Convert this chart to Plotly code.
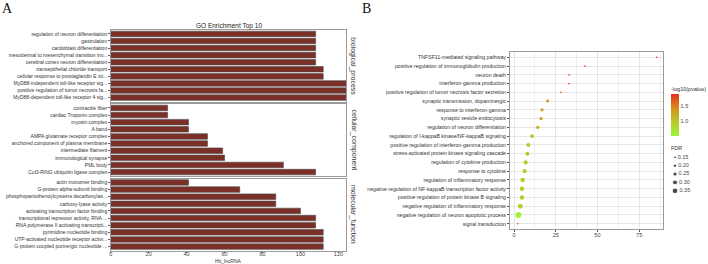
import plotly.graph_objects as go

W, H = 708, 264
def PX(v): return v / W
def PY(v): return 1 - v / H

# ---------------- Panel A data ----------------
bp_terms = ["regulation of neuron differentiation", "gastrulation", "cardioblast differentiation",
            "mesodermal to mesenchymal transition inv...", "cerebral cortex neuron differentiation",
            "transepithelial chloride transport", "cellular response to prostaglandin E sti...",
            "MyD88-independent toll-like receptor sig...", "positive regulation of tumor necrosis fa...",
            "MyD88-dependent toll-like receptor 4 sig..."]
bp_hits = [108, 108, 108, 108, 108, 112, 112, 124, 124, 124]

cc_terms = ["contractile fiber", "cardiac Troponin complex", "myosin complex", "A band",
            "AMPA glutamate receptor complex", "anchored component of plasma membrane",
            "intermediate filament", "immunological synapse", "PML body",
            "Cul3-RING ubiquitin ligase complex"]
cc_hits = [30, 30, 41, 41, 51, 51, 59, 60, 91, 108]

mf_terms = ["actin monomer binding", "G-protein alpha-subunit binding",
            "phosphopantothenoylcysteine decarboxylas...", "carboxy-lyase activity",
            "activating transcription factor binding", "transcriptional repressor activity, RNA ...",
            "RNA polymerase II activating transcripti...", "pyrimidine nucleotide binding",
            "UTP-activated nucleotide receptor activi...", "G-protein coupled purinergic nucleotide ..."]
mf_hits = [41, 68, 87, 87, 100, 108, 108, 112, 112, 112]

facet_names = ["biological_process", "cellular_component", "molecular_function"]
a_xticks = [0, 20, 40, 60, 80, 100, 120]

# ---------------- Panel B data ----------------
b_terms = ["TNFSF11-mediated signaling pathway",
           "positive regulation of immunoglobulin production",
           "neuron death",
           "interferon-gamma production",
           "positive regulation of tumor necrosis factor secretion",
           "synaptic transmission, dopaminergic",
           "response to interferon-gamma",
           "synaptic vesicle endocytosis",
           "regulation of neuron differentiation",
           "regulation of I-kappaB kinase/NF-kappaB signaling",
           "positive regulation of interferon-gamma production",
           "stress-activated protein kinase signaling cascade",
           "regulation of cytokine production",
           "response to cytokine",
           "regulation of inflammatory response",
           "negative regulation of NF-kappaB transcription factor activity",
           "positive regulation of protein kinase B signaling",
           "negative regulation of inflammatory response",
           "negative regulation of neuron apoptotic process",
           "signal transduction"]
b_x = [85.5, 42.5, 33.0, 33.0, 28.2, 20.2, 16.8, 16.2, 14.2, 10.8,
       8.6, 8.0, 7.0, 6.4, 5.2, 4.8, 4.8, 3.8, 2.6, 2.2]
b_logp = [1.89, 1.75, 1.65, 1.65, 1.60, 1.35, 1.30, 1.30, 1.20, 1.10,
          1.00, 1.00, 0.98, 0.97, 0.93, 0.93, 0.93, 0.90, 0.55, 1.65]
b_fdr = [0.08, 0.09, 0.09, 0.09, 0.09, 0.17, 0.18, 0.18, 0.20, 0.22,
         0.24, 0.24, 0.25, 0.25, 0.27, 0.27, 0.27, 0.30, 0.37, 0.08]
b_xticks = [0, 25, 50, 75]
fdr_legend = [0.15, 0.20, 0.25, 0.30, 0.35]
cbar_ticks = [1.0, 1.5]

def dsize(f):
    return 1.6 + (f - 0.08) * 15.0

FONT = "Liberation Sans"
fig = go.Figure()

# ---------------- Panel A ----------------
bar_color = "#7b2f27"
a_dom_x = [PX(110.7), PX(346)]
a_rows = [(30, 101.5), (104, 176), (178.5, 250.5)]
for i, (terms, hits) in enumerate([(bp_terms, bp_hits), (cc_terms, cc_hits), (mf_terms, mf_hits)]):
    sfx = "" if i == 0 else str(i + 1)
    fig.add_trace(go.Bar(x=hits, y=terms, orientation="h", xaxis="x" + sfx, yaxis="y" + sfx,
                         marker=dict(color=bar_color, line=dict(color="#4a4a4a", width=0.6)),
                         showlegend=False, hoverinfo="x+y"))
    top, bot = a_rows[i]
    fig.layout["xaxis" + sfx] = dict(domain=a_dom_x, anchor="y" + sfx, range=[0, 124],
                                      showgrid=False, zeroline=False,
                                      showline=True, mirror=True, linecolor="#9a9a9a", linewidth=1,
                                      tickvals=a_xticks, ticks="outside" if i == 2 else "",
                                      ticklen=1.5, tickcolor="#555", ticklabelstandoff=-4,
                                      showticklabels=(i == 2),
                                      tickfont=dict(size=5.5, color="#444", family=FONT),
                                      automargin=False)
    fig.layout["yaxis" + sfx] = dict(domain=[PY(bot), PY(top)], anchor="x" + sfx,
                                      type="category", categoryorder="array", categoryarray=terms,
                                      range=[9.55, -0.55], showgrid=False, zeroline=False,
                                      showline=True, mirror=True, linecolor="#9a9a9a", linewidth=1,
                                      ticks="outside", ticklen=1.5, tickcolor="#666",
                                      tickfont=dict(size=5, color="#333", family=FONT),
                                      automargin=False)
    fig.add_annotation(text=facet_names[i], x=PX(353.5), y=PY((top + bot) / 2), xref="paper",
                       yref="paper", xanchor="center", yanchor="middle", textangle=90,
                       showarrow=False, borderpad=0,
                       font=dict(size=7, color="#333", family=FONT))

fig.update_layout(bargap=0.22)
fig.add_annotation(text="GO Enrichment Top 10", x=PX(228.5), y=PY(26), xref="paper", yref="paper",
                   xanchor="center", yanchor="middle", borderpad=0,
                   showarrow=False, font=dict(size=6.5, color="#222", family=FONT))
fig.add_annotation(text="Hit_lncRNA", x=PX(228.5), y=PY(260.5), xref="paper", yref="paper",
                   xanchor="center", yanchor="middle", borderpad=0,
                   showarrow=False, font=dict(size=5, color="#333", family=FONT))
fig.add_annotation(text="A", x=PX(1), y=PY(9), xref="paper", yref="paper", xanchor="left",
                   yanchor="middle", borderpad=0,
                   showarrow=False, font=dict(size=14, color="#111", family="Liberation Serif"))
fig.add_annotation(text="B", x=PX(361), y=PY(9), xref="paper", yref="paper", xanchor="left",
                   yanchor="middle", borderpad=0,
                   showarrow=False, font=dict(size=14, color="#111", family="Liberation Serif"))

# ---------------- Panel B ----------------
colorscale = [[0.0, "#9cf53c"], [0.35, "#b8c82a"], [0.6, "#d29a1f"], [0.8, "#e0661d"], [1.0, "#e8301c"]]
fig.add_trace(go.Scatter(x=b_x, y=b_terms, mode="markers", xaxis="x4", yaxis="y4",
                         marker=dict(size=[dsize(f) for f in b_fdr], color=b_logp,
                                     colorscale=colorscale, cmin=0.53, cmax=1.89,
                                     line=dict(width=0), opacity=1,
                                     showscale=True,
                                     colorbar=dict(x=PX(671), xanchor="left", y=PY(94), yanchor="top",
                                                   len=42, lenmode="pixels", thickness=8,
                                                   thicknessmode="pixels", outlinewidth=0,
                                                   xpad=0, ypad=0, ticks="", tickvals=cbar_ticks,
                                                   ticktext=["1.0", "1.5"],
                                                   tickfont=dict(size=5.5, color="#444", family=FONT))),
                         showlegend=False))
fig.layout.xaxis4 = dict(domain=[PX(510), PX(663)], anchor="y4", range=[-2.4, 89.3],
                         tickvals=b_xticks, showgrid=True, gridcolor="#e6e6e6", gridwidth=0.8,
                         minor=dict(dtick=12.5, tick0=0, showgrid=True, gridcolor="#f1f1f1", gridwidth=0.5),
                         zeroline=False, showline=True, mirror=True, linecolor="#9a9a9a", linewidth=1,
                         ticks="outside", ticklen=2, tickcolor="#555", ticklabelstandoff=-2,
                         tickfont=dict(size=5.5, color="#444", family=FONT), automargin=False)
fig.layout.yaxis4 = dict(domain=[PY(229), PY(52)], anchor="x4", type="category",
                         categoryorder="array", categoryarray=b_terms, range=[19.6, -0.6],
                         showgrid=True, gridcolor="#e6e6e6", gridwidth=0.8, zeroline=False,
                         showline=True, mirror=True, linecolor="#9a9a9a", linewidth=1,
                         ticks="outside", ticklen=2, tickcolor="#555",
                         tickfont=dict(size=5.2, color="#333", family=FONT), automargin=False)

fig.add_annotation(text="-log10(pvalue)", x=PX(670), y=PY(89), xref="paper", yref="paper",
                   xanchor="left", yanchor="middle", borderpad=0,
                   showarrow=False, font=dict(size=5.5, color="#333", family=FONT))
fig.add_annotation(text="FDR", x=PX(670), y=PY(148), xref="paper", yref="paper",
                   xanchor="left", yanchor="middle", borderpad=0,
                   showarrow=False, font=dict(size=5.5, color="#333", family=FONT))

# size legend
fig.add_trace(go.Scatter(x=[0] * len(fdr_legend), y=list(range(len(fdr_legend))),
                         mode="markers+text", xaxis="x5", yaxis="y5",
                         marker=dict(size=[dsize(f) for f in fdr_legend], color="black"),
                         text=["%.2f" % f for f in fdr_legend], textposition="middle right",
                         textfont=dict(size=5.5, color="#444", family=FONT),
                         showlegend=False, hoverinfo="skip", cliponaxis=False))
fig.layout.xaxis5 = dict(domain=[PX(671), PX(700)], anchor="y5", range=[-1, 6.25], visible=False)
fig.layout.yaxis5 = dict(domain=[PY(195), PY(153.1)], anchor="x5", range=[4.5, -0.5], visible=False)

fig.update_layout(width=W, height=H, margin=dict(l=0, r=0, t=0, b=0),
                  paper_bgcolor="white", plot_bgcolor="white", showlegend=False,
                  font=dict(family=FONT))
fig.write_html("out.html")
